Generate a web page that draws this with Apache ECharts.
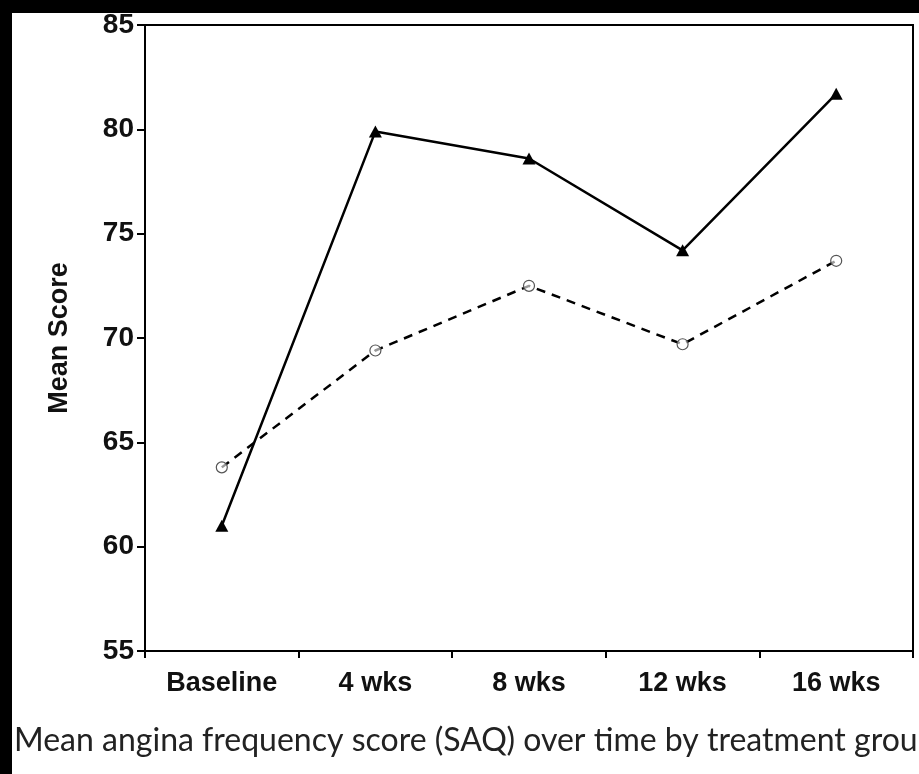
<!DOCTYPE html>
<html>
<head>
<meta charset="utf-8">
<script src="https://cdn.jsdelivr.net/npm/echarts@6/dist/echarts.min.js"></script>
<style>
html,body{margin:0;padding:0;background:#000;}
#main{width:919px;height:774px;}
</style>
</head>
<body>
<div id="main"></div>
<script>
var categories = ['Baseline', '4 wks', '8 wks', '12 wks', '16 wks'];
var seriesSolid = [61.0, 79.9, 78.6, 74.2, 81.7];
var seriesDashed = [63.8, 69.4, 72.5, 69.7, 73.7];
var yTicks = [55, 60, 65, 70, 75, 80, 85];
var captionText = 'Mean angina frequency score (SAQ) over time by treatment group';

var chart = echarts.init(document.getElementById('main'), null, {renderer: 'canvas'});
var labelFont = '"Liberation Sans", Arial, sans-serif';
chart.setOption({
  backgroundColor: '#000',
  animation: false,
  graphic: [
    {type: 'rect', z: -10, shape: {x: 12, y: 13, width: 907, height: 761}, style: {fill: '#fff'}},
    {type: 'text', left: 14, top: 725, style: {text: captionText, font: '32px Lato, "Open Sans", sans-serif', fill: '#222'}}
  ],
  grid: {left: 145, right: 6, top: 25, bottom: 123, show: true, borderColor: '#000', borderWidth: 2, backgroundColor: 'transparent'},
  xAxis: {
    type: 'category',
    data: categories,
    boundaryGap: true,
    axisLine: {lineStyle: {color: '#000', width: 2}},
    axisTick: {show: true, length: 7, lineStyle: {color: '#000', width: 2}},
    axisLabel: {color: '#111', fontFamily: labelFont, fontSize: 27, fontWeight: 'bold', margin: 19}
  },
  yAxis: {
    type: 'value',
    min: yTicks[0],
    max: yTicks[yTicks.length - 1],
    interval: 5,
    name: 'Mean Score',
    nameLocation: 'middle',
    nameGap: 72,
    nameTextStyle: {color: '#111', fontFamily: labelFont, fontSize: 27, fontWeight: 'bold'},
    splitLine: {show: false},
    axisLine: {show: true, lineStyle: {color: '#000', width: 2}},
    axisTick: {show: true, length: 8, lineStyle: {color: '#000', width: 2}},
    axisLabel: {color: '#111', fontFamily: labelFont, fontSize: 28, fontWeight: 'bold', margin: 11}
  },
  series: [
    {
      type: 'line', data: seriesDashed, symbol: 'circle', symbolSize: 11,
      lineStyle: {color: '#000', width: 2.5, type: [9, 7]},
      itemStyle: {color: 'rgba(255,255,255,0.6)', borderColor: '#555', borderWidth: 1.2}
    },
    {
      type: 'line', data: seriesSolid, symbol: 'triangle', symbolSize: [13, 12],
      lineStyle: {color: '#000', width: 2.5},
      itemStyle: {color: '#000'}
    }
  ]
});
</script>
</body>
</html>
